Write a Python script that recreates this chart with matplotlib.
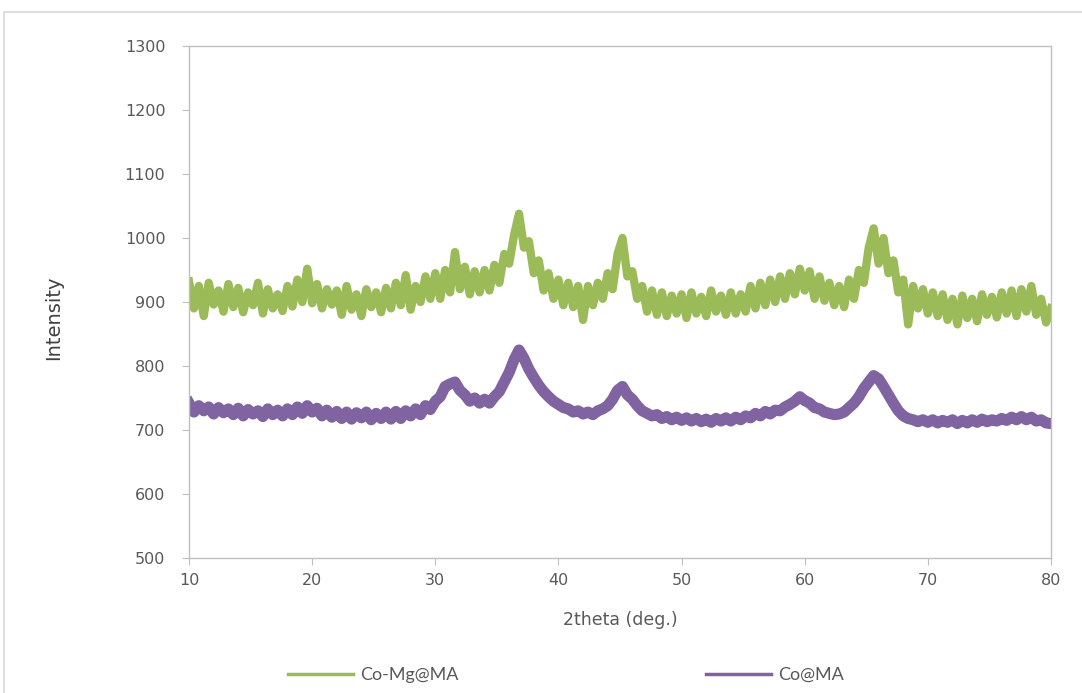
import numpy as np
import matplotlib
matplotlib.use("Agg")
import matplotlib.pyplot as plt
from matplotlib.patches import Rectangle

# 2theta grid, 0.4 deg step from 10 to 80 (176 points)
two_theta = np.linspace(10, 80, 176)

# intensities (noisy band approximated point by point)
co_mg_ma = [
    932, 890, 925, 878, 930, 896, 918, 885, 928, 892,
    922, 884, 915, 895, 930, 882, 920, 890, 912, 886,
    925, 893, 935, 900, 952, 898, 928, 890, 920, 896,
    918, 880, 925, 888, 912, 878, 920, 892, 915, 884,
    922, 890, 930, 895, 942, 888, 925, 900, 940, 905,
    945, 905, 950, 915, 978, 920, 955, 912, 948, 915,
    950, 918, 958, 930, 975, 960, 1005, 1038, 985, 995,
    945, 965, 918, 945, 905, 935, 895, 930, 892, 925,
    872, 925, 895, 930, 905, 945, 920, 975, 1000, 940,
    948, 905, 925, 885, 918, 880, 915, 878, 910, 882,
    912, 875, 915, 882, 908, 878, 918, 885, 910, 880,
    915, 882, 912, 885, 925, 890, 930, 895, 935, 900,
    940, 905, 945, 912, 952, 918, 948, 905, 940, 902,
    930, 895, 925, 892, 935, 905, 950, 930, 985, 1015,
    960, 1000, 945, 965, 915, 935, 865, 925, 890, 920,
    882, 915, 878, 912, 872, 905, 865, 910, 875, 905,
    870, 912, 880, 908, 876, 915, 882, 918, 878, 920,
    885, 925, 880, 905, 868, 890,
]

co_ma = [
    742, 728, 738, 730, 736, 725, 735, 727, 733, 724,
    734, 722, 732, 725, 730, 721, 733, 724, 731, 722,
    733, 724, 736, 726, 738, 728, 734, 722, 731, 720,
    729, 718, 728, 717, 727, 719, 728, 716, 726, 718,
    728, 717, 729, 718, 730, 722, 733, 724, 738, 732,
    745, 752, 768, 772, 775, 762, 755, 745, 750, 742,
    748, 742, 752, 760, 775, 790, 810, 825, 812, 795,
    782, 770, 760, 752, 745, 740, 735, 733, 728, 730,
    725, 728, 724, 730, 733, 738, 748, 762, 768, 755,
    748, 738, 730, 726, 722, 724, 718, 721, 716, 720,
    715, 719, 714, 718, 713, 717, 712, 718, 714, 719,
    714, 720, 716, 722, 719, 726, 722, 729, 725, 731,
    730, 736, 740, 745, 752, 746, 742, 735, 733, 728,
    726, 724, 725, 728, 735, 742, 752, 765, 775, 785,
    780, 768, 755, 742, 730, 722, 718, 716, 713, 716,
    712, 716, 711, 715, 712, 716, 710, 715, 711, 716,
    712, 717, 713, 716, 714, 718, 715, 720, 716, 721,
    716, 720, 714, 716, 711, 710,
]

x_ticks = [10, 20, 30, 40, 50, 60, 70, 80]
y_ticks = [500, 600, 700, 800, 900, 1000, 1100, 1200, 1300]

green = "#9BBB59"
purple = "#8064A2"
grey_txt = "#595959"
grey_line = "#BFBFBF"

fig = plt.figure(figsize=(10.82, 6.93), dpi=100)
ax = fig.add_axes([189 / 1082, 1 - 558 / 693, 862 / 1082, 512 / 693])

# outer chart frame (only left and top edges visible)
fig.patches.append(Rectangle((4 / 1082, -0.2), 2, 1.2 - 12 / 693,
                             transform=fig.transFigure, fill=False,
                             edgecolor="#D9D9D9", lw=1.2))

ax.plot(two_theta, co_mg_ma, color=green, lw=6, label="Co-Mg@MA")
ax.plot(two_theta, co_ma, color=purple, lw=8, label="Co@MA")

ax.set_xlim(10, 80)
ax.set_ylim(500, 1300)
ax.set_xticks(x_ticks)
ax.set_yticks(y_ticks)
for s in ax.spines.values():
    s.set_color(grey_line)
    s.set_linewidth(1)
ax.tick_params(axis="both", colors=grey_line, labelcolor=grey_txt,
               labelsize=11.5, length=5, direction="out")
ax.tick_params(axis="y", pad=12)
ax.tick_params(axis="x", pad=6)

ax.set_xlabel("2theta (deg.)", color=grey_txt, fontsize=12.5)
ax.xaxis.set_label_coords(0.5, -0.103)
ax.set_ylabel("Intensity", color="#404040", fontsize=14,
              family=["Liberation Sans Narrow", "DejaVu Sans"])
ax.yaxis.set_label_coords(-0.146, 0.47)

leg = fig.legend(loc="center", bbox_to_anchor=(0.523, 0.026), ncol=2,
                 frameon=False, handlelength=3.6, handletextpad=0.4,
                 columnspacing=13.7, prop={"family": "Lato", "size": 13})
for t in leg.get_texts():
    t.set_color(grey_txt)
for h in leg.get_lines():
    h.set_linewidth(2.5)

fig.savefig("out.png", dpi=100)
